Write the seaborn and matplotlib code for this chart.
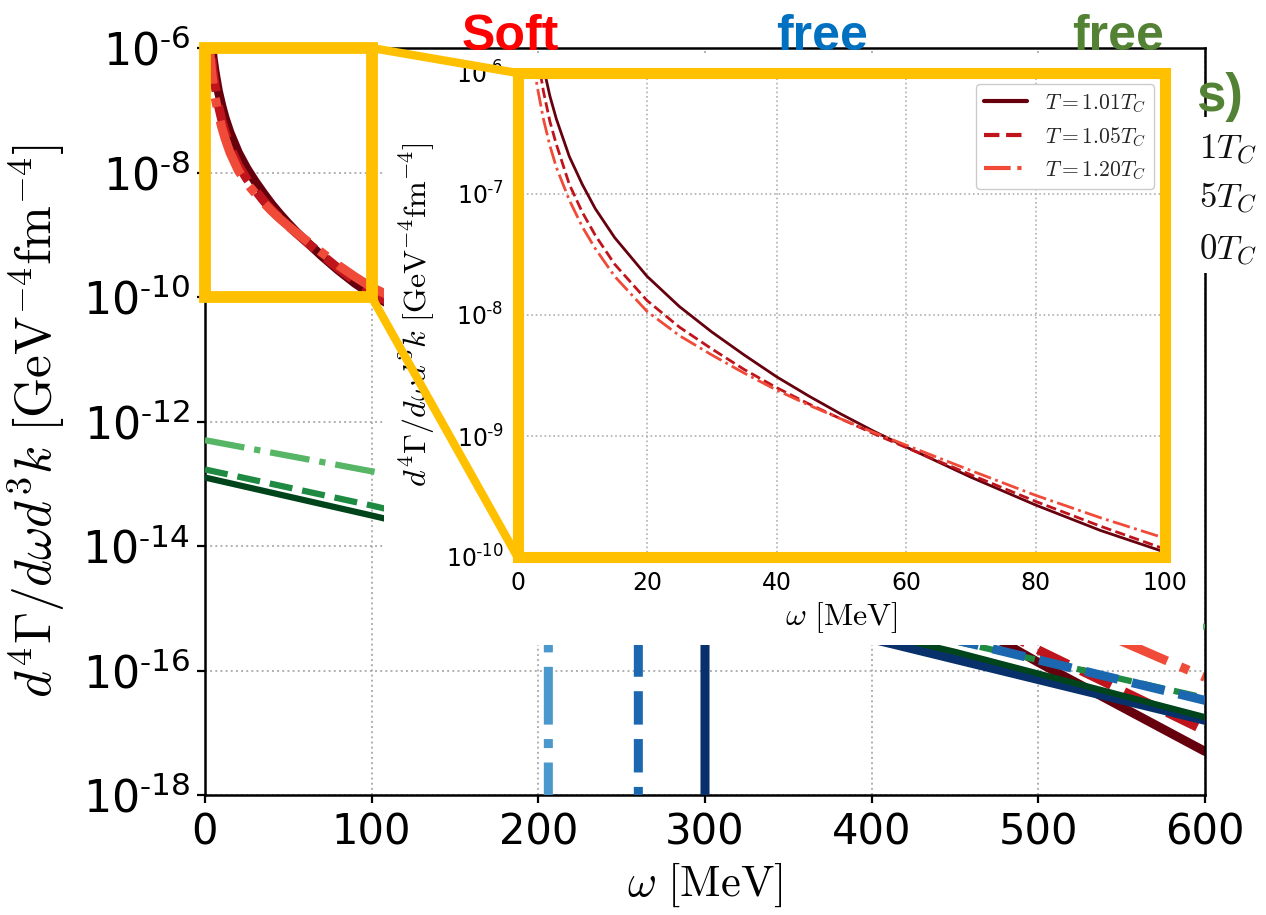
import numpy as np
import matplotlib
matplotlib.use("Agg")
import matplotlib.pyplot as plt
from matplotlib.patches import Rectangle, ConnectionPatch
from matplotlib.ticker import NullLocator
from matplotlib.mathtext import MathTextParser
import seaborn as sns

W, H = 1266, 915

# ---------------- data: log10 of d^4Gamma/(d omega d^3k) [GeV^-4 fm^-4], omega in MeV
temp_labels = [r"$T=1.01T_C$", r"$T=1.05T_C$", r"$T=1.20T_C$"]

# soft-mode contribution, low-energy part (also shown in the zoom panel)
omega_soft = [2, 3, 4, 5, 6, 8, 10, 12, 15, 20, 25, 30, 35, 40, 45, 50, 55, 60,
              70, 80, 90, 100]
soft_101 = [-5.21, -5.64, -5.95, -6.19, -6.38, -6.69, -6.92, -7.12, -7.36, -7.68,
            -7.93, -8.14, -8.33, -8.51, -8.67, -8.82, -8.96, -9.09,
            -9.34, -9.57, -9.78, -9.96]
soft_105 = [-5.40, -5.83, -6.15, -6.40, -6.59, -6.92, -7.15, -7.34, -7.58, -7.88,
            -8.10, -8.28, -8.45, -8.60, -8.735, -8.86, -8.98, -9.095,
            -9.32, -9.54, -9.745, -9.935]
soft_120 = [-5.65, -6.10, -6.38, -6.60, -6.78, -7.05, -7.27, -7.45, -7.68, -7.97,
            -8.17, -8.33, -8.48, -8.62, -8.745, -8.86, -8.97, -9.075,
            -9.285, -9.49, -9.675, -9.845]

# soft-mode contribution, high-energy tail
omega_tail = [200, 300, 400, 500, 600]
tail_101 = [-11.45, -12.90, -14.35, -15.87, -17.30]
tail_105 = [-11.37, -12.80, -14.24, -15.67, -16.97]
tail_120 = [-11.11, -12.38, -13.65, -14.95, -16.11]

# free gluon-like contribution
omega_glue = [0, 100, 450, 600]
glue_101 = [-12.90, -13.51, -15.70, -16.75]
glue_105 = [-12.77, -13.35, -15.53, -16.44]
glue_120 = [-12.30, -12.80, -14.55, -15.30]

# free quark contribution: zero below the 2m threshold, then decaying
omega_q101 = [300, 300, 415, 600]
quark_101 = [-30.0, -14.85, -15.59, -16.80]
omega_q105 = [260, 260, 463, 600]
quark_105 = [-30.0, -14.27, -15.59, -16.48]
omega_q120 = [206, 206, 600]
quark_120 = [-30.0, -12.90, -15.50]

reds = ["#67000d", "#c0141c", "#f04a38"]
blues = ["#08306b", "#1c68b0", "#4a98cc"]
greens = ["#00441b", "#1f8a42", "#56b665"]
styles = ["-", "--", "-."]
yellow = "#ffc000"

# ---------------- style
sns.set_theme(style="white")
plt.rcParams["font.family"] = ["DejaVu Sans"]
plt.rcParams["mathtext.fontset"] = "cm"


def fx(px):
    return px / W


def fy(py):
    return 1 - py / H


def pow_label(e):
    # decade label with a plain hyphen in the exponent when mathtext allows it
    s = r"$\mathregular{10^{\text{-}%d}}$" % abs(e)
    try:
        MathTextParser("agg").parse(s, dpi=100)
        return s
    except Exception:
        return r"$\mathregular{10^{%d}}$" % e


def draw(axis, om, lg, color, ls, lw, label=None, z=2):
    sns.lineplot(x=list(om), y=list(np.power(10.0, lg)), ax=axis, color=color,
                 linestyle=ls, linewidth=lw, estimator=None, sort=False,
                 label=label, zorder=z)


fig = plt.figure(figsize=(W / 100, H / 100), dpi=100)
fig.patch.set_facecolor("white")

# ---------------- main panel
ax = fig.add_axes([fx(205), fy(795), fx(1205) - fx(205), fy(48) - fy(795)], zorder=0)
ax.set_yscale("log")

soft_sets = [soft_101, soft_105, soft_120]
tail_sets = [tail_101, tail_105, tail_120]
for lg_s, lg_t, c, ls in zip(soft_sets, tail_sets, reds, styles):
    draw(ax, omega_soft + omega_tail, lg_s + lg_t, c, ls, 6.5)

draw(ax, omega_q101, quark_101, blues[0], "-", 6.5, z=3)
draw(ax, omega_glue, glue_101, greens[0], "-", 4.5, z=4)
draw(ax, omega_glue, glue_105, greens[1], "--", 4.5, z=4)
draw(ax, omega_q105, quark_105, blues[1], "--", 6.5, z=5)
draw(ax, omega_glue, glue_120, greens[2], "-.", 4.5, z=4)
draw(ax, omega_q120, quark_120, blues[2], "-.", 6.5, z=5)

ax.set_xlim(0, 600)
ax.set_ylim(1e-18, 1e-6)
ax.set_xticks(range(0, 601, 100))
ax.set_xticklabels([str(v) for v in range(0, 601, 100)])
yexp = list(range(-18, -5, 2))
ax.set_yticks([10.0 ** e for e in yexp])
ax.set_yticklabels([pow_label(e) for e in yexp])
ax.yaxis.set_minor_locator(NullLocator())
ax.tick_params(axis="both", which="major", direction="out", length=6, width=1.6,
               pad=6, color="black", labelcolor="black", left=True, bottom=True)
ax.tick_params(axis="x", labelsize=30)
ax.tick_params(axis="y", labelsize=32, pad=5)
ax.grid(True, which="major", linestyle=":", color="#b0b0b0", linewidth=1.4)
ax.set_axisbelow(True)
for s in ax.spines.values():
    s.set_visible(True)
    s.set_color("black")
    s.set_linewidth(1.8)

ax.set_xlabel(r"$\omega\ [\mathrm{MeV}]$", fontsize=32, color="black")
ax.set_ylabel(r"$d^4\Gamma/d\omega d^3k\ [\mathrm{GeV}^{-4}\mathrm{fm}^{-4}]$",
              fontsize=37, color="black")
ax.xaxis.set_label_coords(0.5, (795 - 861) / 747)
ax.yaxis.set_label_coords((68 - 205) / 1000, 0.5)

# zoom marker around the soft region
ax.add_patch(Rectangle((0, 1e-10), 100, 1e-6 - 1e-10, fill=False, edgecolor=yellow,
                       linewidth=8.5, clip_on=False, zorder=20))

# white backdrop for the zoom panel
fig.add_artist(Rectangle((fx(384), fy(645)), fx(1203) - fx(384), fy(55) - fy(645),
                         transform=fig.transFigure, facecolor="white",
                         edgecolor="none", zorder=1))

# ---------------- zoom panel
axin = fig.add_axes([fx(517.5), fy(557), fx(1165) - fx(517.5), fy(73) - fy(557)], zorder=2)
axin.set_facecolor("white")
axin.set_yscale("log")
for lg_s, c, ls, lab in zip(soft_sets, reds, styles, temp_labels):
    draw(axin, omega_soft, lg_s, c, ls, 2.0, label=lab)
axin.set_xlim(0, 100)
axin.set_ylim(1e-10, 1e-6)
axin.set_xticks(range(0, 101, 20))
axin.set_xticklabels([str(v) for v in range(0, 101, 20)])
iexp = list(range(-10, -5))
axin.set_yticks([10.0 ** e for e in iexp])
axin.set_yticklabels([pow_label(e) for e in iexp])
axin.yaxis.set_minor_locator(NullLocator())
axin.tick_params(axis="both", which="major", length=0, labelsize=17, pad=10,
                 labelcolor="black")
axin.grid(True, which="major", linestyle=":", color="#b0b0b0", linewidth=1.2)
axin.set_axisbelow(True)
for s in axin.spines.values():
    s.set_visible(False)
axin.set_xlabel(r"$\omega\ [\mathrm{MeV}]$", fontsize=23, color="black")
axin.set_ylabel(r"$d^4\Gamma/d\omega d^3k\ [\mathrm{GeV}^{-4}\mathrm{fm}^{-4}]$",
                fontsize=23, color="black")
axin.xaxis.set_label_coords(0.5, (557 - 600) / 484)
axin.yaxis.set_label_coords((437 - 517.5) / 647.5, 0.5)
leg = axin.legend(loc="upper right", fontsize=15.5, frameon=True, fancybox=True,
                  framealpha=1.0, edgecolor="#cccccc", handlelength=2.0)
leg.get_frame().set_linewidth(1.0)
for line in leg.get_lines():
    line.set_linewidth(3.0)
axin.add_patch(Rectangle((0, 0), 1, 1, transform=axin.transAxes, fill=False,
                         edgecolor=yellow, linewidth=8, clip_on=False, zorder=20))

# connectors between the marked region and the zoom panel
for yv in (1e-6, 1e-10):
    con = ConnectionPatch(xyA=(100, yv), coordsA="data", axesA=ax,
                          xyB=(0, yv), coordsB="data", axesB=axin,
                          color=yellow, linewidth=6, zorder=6)
    fig.add_artist(con)

# legend fragments at the right border
fig.add_artist(Rectangle((fx(1195), fy(273)), fx(1266) - fx(1195), fy(117) - fy(273),
                         transform=fig.transFigure, facecolor="white",
                         edgecolor="none", zorder=3))
for txt, ypx in [(r"$1T_C$", 150), (r"$5T_C$", 198), (r"$0T_C$", 250)]:
    fig.text(fx(1199), fy(ypx), txt, fontsize=25, ha="left", va="center",
             color="#111111", zorder=7)
fig.text(fx(1196), fy(111), "s)", fontsize=38, fontweight="bold",
         family=["Liberation Sans", "DejaVu Sans"], color="#548235",
         ha="left", va="baseline", zorder=7)

# group captions
for txt, xc, col in [("Soft", 510, "#ff0000"), ("free", 822, "#0070c0"),
                     ("free", 1118, "#548235")]:
    fig.text(fx(xc), fy(50), txt, fontsize=36, fontweight="bold",
             family=["Liberation Sans", "DejaVu Sans"], color=col,
             ha="center", va="baseline", zorder=8)

fig.savefig("out.png", dpi=100, facecolor="white")
